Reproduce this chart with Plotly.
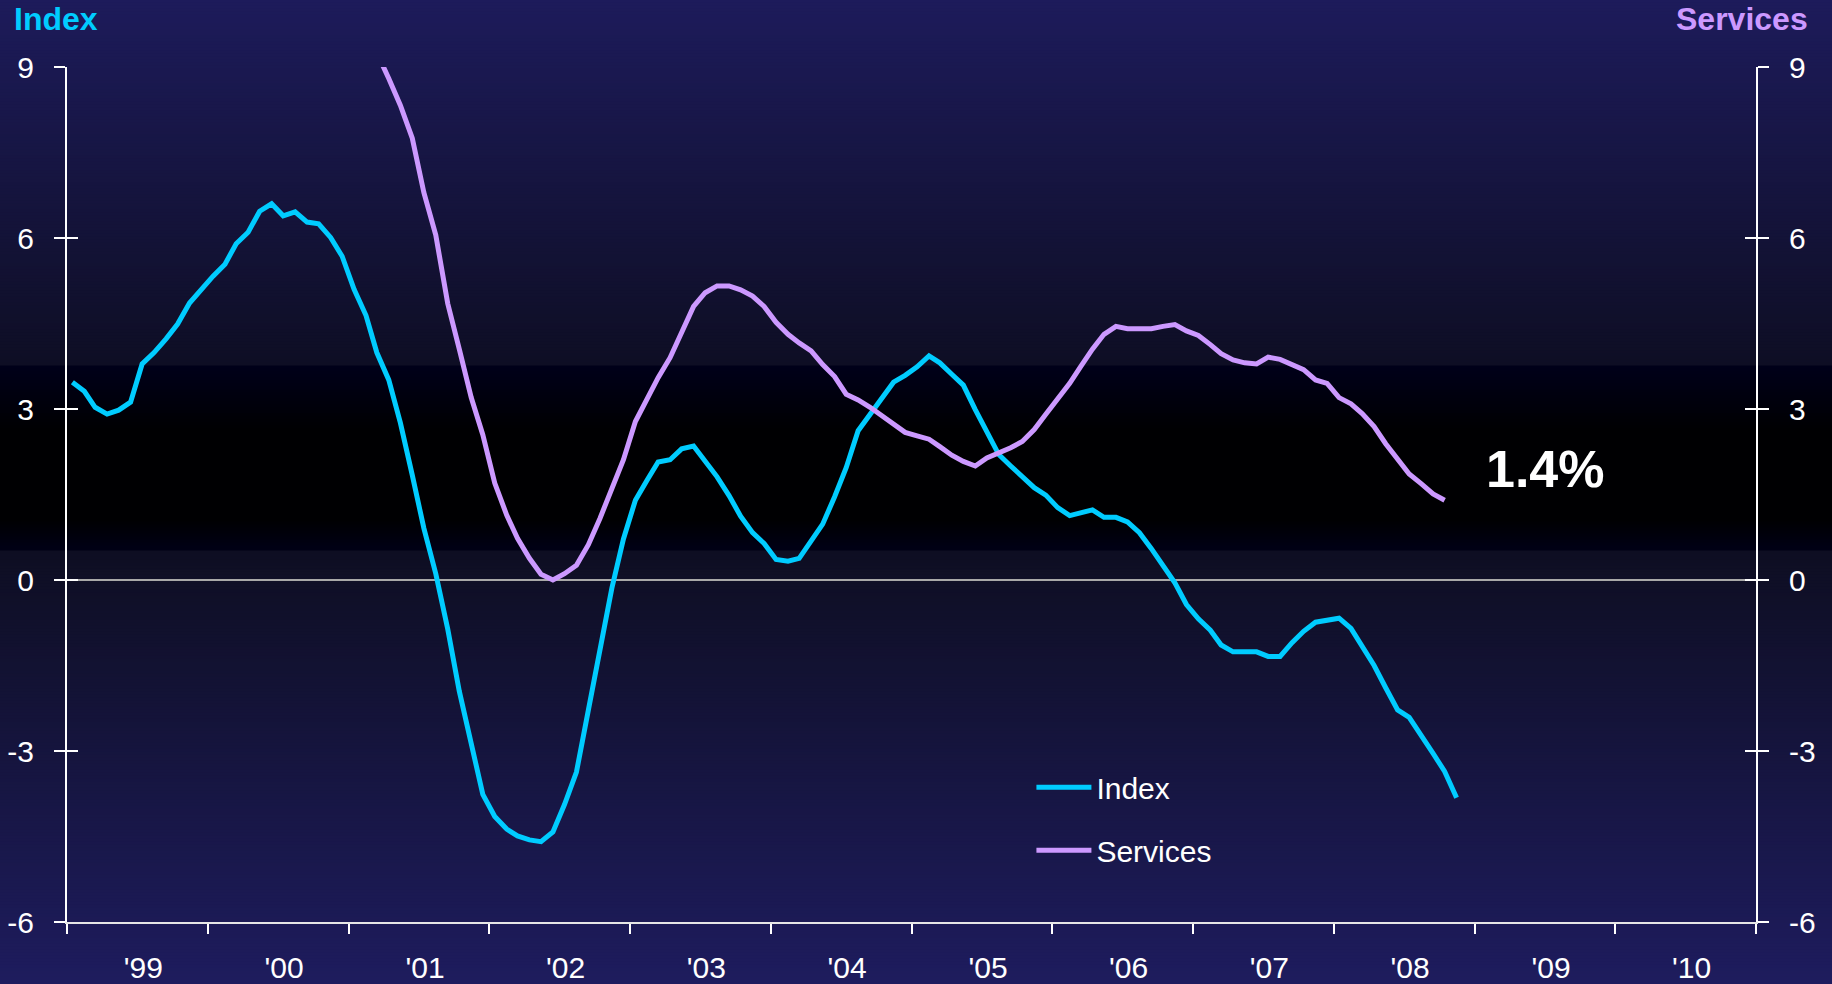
import pandas as pd
import plotly.graph_objects as go

# ---------------- data (monthly) ----------------
index_start = "1999-01-01"
index_values = [
    3.47, 3.31, 3.03, 2.91, 2.98, 3.12, 3.79, 3.99, 4.23, 4.49, 4.86, 5.10,
    5.33, 5.54, 5.90, 6.10, 6.47, 6.60, 6.39, 6.46, 6.28, 6.25, 6.01, 5.68,
    5.10, 4.64, 3.99, 3.51, 2.76, 1.84, 0.91, 0.11, -0.86, -1.95, -2.91, -3.76,
    -4.15, -4.37, -4.49, -4.56, -4.59, -4.42, -3.94, -3.37, -2.28, -1.19, -0.14, 0.72,
    1.40, 1.76, 2.07, 2.11, 2.30, 2.35, 2.09, 1.81, 1.48, 1.12, 0.83, 0.64,
    0.36, 0.33, 0.38, 0.67, 0.98, 1.46, 1.97, 2.62, 2.90, 3.17, 3.47, 3.59,
    3.74, 3.93, 3.81, 3.61, 3.42, 2.99, 2.58, 2.20, 2.00, 1.80, 1.62, 1.49,
    1.27, 1.13, 1.18, 1.23, 1.10, 1.10, 1.02, 0.83, 0.55, 0.27, -0.05, -0.43,
    -0.68, -0.88, -1.14, -1.26, -1.26, -1.26, -1.34, -1.34, -1.10, -0.90, -0.74, -0.70,
    -0.67, -0.85, -1.18, -1.50, -1.89, -2.28, -2.41, -2.71, -3.04, -3.36, -3.82,
]

services_start = "2001-02-01"
services_values = [
    9.90, 9.25, 8.80, 8.33, 7.75, 6.80, 6.05, 4.85, 4.05, 3.20, 2.55,
    1.70, 1.14, 0.73, 0.38, 0.10, 0.00, 0.11, 0.26, 0.62, 1.08, 1.62, 2.11,
    2.78, 3.19, 3.55, 3.90, 4.36, 4.80, 5.04, 5.16, 5.16, 5.09, 4.98, 4.80,
    4.52, 4.31, 4.16, 4.02, 3.78, 3.57, 3.26, 3.16, 3.03, 2.89, 2.74, 2.59,
    2.53, 2.47, 2.34, 2.19, 2.08, 2.00, 2.14, 2.22, 2.32, 2.43, 2.64, 2.91,
    3.18, 3.45, 3.74, 4.05, 4.31, 4.45, 4.41, 4.41, 4.41, 4.45, 4.48, 4.37,
    4.29, 4.13, 3.97, 3.86, 3.81, 3.79, 3.91, 3.87, 3.79, 3.69, 3.51, 3.45,
    3.20, 3.09, 2.92, 2.69, 2.39, 2.13, 1.86, 1.69, 1.51, 1.40,
]

series_names = ["Index", "Services"]
x_range = ["1999-01-01", "2011-01-01"]
y_range = [-6, 9]
y_tick_vals = [-6, -3, 0, 3, 6, 9]
y_tick_text = ["-6", "-3", "0", "3", "6", "9"]

# ---------------- styles ----------------
CYAN = "#00CCFF"
PURPLE = "#CC99FF"
FONT = "Liberation Sans, Arial, sans-serif"
W, H = 1832, 984
ML, MR, MT, MB = 67, 76, 67, 62

index_x = pd.date_range(index_start, periods=len(index_values), freq="MS") + pd.Timedelta(days=14)
services_x = pd.date_range(services_start, periods=len(services_values), freq="MS") + pd.Timedelta(days=14)

fig = go.Figure()
fig.add_trace(go.Scatter(x=index_x, y=index_values, name=series_names[0], mode="lines",
                         line=dict(color=CYAN, width=5), yaxis="y", legendgroup="a"))
fig.add_trace(go.Scatter(x=services_x, y=services_values, name=series_names[1], mode="lines",
                         line=dict(color=PURPLE, width=5), yaxis="y2", legendgroup="b"))
# empty helper traces so the inner-tick axes are drawn
fig.add_trace(go.Scatter(x=[], y=[], yaxis="y3", showlegend=False, hoverinfo="skip"))
fig.add_trace(go.Scatter(x=[], y=[], yaxis="y4", showlegend=False, hoverinfo="skip"))

# ---------------- background gradient (paper strips) ----------------
stops = [(0, (29, 27, 91)), (366, (14, 14, 36)), (366.01, (0, 0, 26)), (430, (0, 0, 2)),
         (520, (0, 0, 2)), (551, (0, 0, 22)), (551.01, (14, 14, 34)), (984, (30, 28, 94))]

def color_at(yy):
    for (a, ca), (b, cb) in zip(stops[:-1], stops[1:]):
        if a <= yy <= b:
            t = 0 if b == a else (yy - a) / (b - a)
            c = [round(ca[k] + (cb[k] - ca[k]) * t) for k in range(3)]
            return "rgb(%d,%d,%d)" % tuple(c)
    return "rgb(%d,%d,%d)" % stops[-1][1]

ph = H - MT - MB
pw = W - ML - MR
shapes = []
edges = list(range(0, 367, 3)) + [366, 551] + list(range(366, 552, 3)) + list(range(551, H + 1, 3)) + [H]
edges = sorted(set(edges))
for a, b in zip(edges[:-1], edges[1:]):
    mid = (a + b) / 2
    shapes.append(dict(type="rect", xref="paper", yref="paper", layer="below",
                       x0=-ML / pw - 0.01, x1=1 + MR / pw + 0.01,
                       y0=(H - MB - b - 0.5) / ph, y1=(H - MB - a + 0.5) / ph,
                       fillcolor=color_at(mid), line=dict(width=0)))

tickfont = dict(family=FONT, size=30, color="white")
yax_common = dict(range=y_range, tickmode="array", tickvals=y_tick_vals, ticktext=y_tick_text,
                  showgrid=False, tickfont=tickfont,
                  tickcolor="white", tickwidth=2, ticklen=11, fixedrange=True)

fig.update_layout(
    width=W, height=H,
    margin=dict(l=ML, r=MR, t=MT, b=MB, autoexpand=False),
    paper_bgcolor="#141438", plot_bgcolor="rgba(0,0,0,0)",
    shapes=shapes,
    showlegend=True,
    legend=dict(x=0.571, y=0.188, xanchor="left", yanchor="top",
                font=dict(family=FONT, size=30, color="white"),
                bgcolor="rgba(0,0,0,0)", tracegroupgap=21, itemwidth=55),
    xaxis=dict(type="date", range=x_range, dtick="M12", tick0="1999-01-01",
               tickformat="'%y", ticklabelmode="period", ticks="outside",
               ticklen=10, tickwidth=2, tickcolor="white", showline=True,
               linecolor="#e6e6e6", linewidth=2, showgrid=False, zeroline=False,
               tickfont=tickfont, ticklabelstandoff=8, ticklabelshift=6,
               fixedrange=True),
    yaxis=dict(**yax_common, side="left", ticks="outside", showline=True,
               linecolor="white", linewidth=2, zeroline=True,
               zerolinecolor="#a8a8a8", zerolinewidth=1.5, ticklabelstandoff=14),
    yaxis2=dict(**yax_common, side="right", overlaying="y", ticks="outside",
                showline=True, linecolor="white", linewidth=2, zeroline=False,
                ticklabelstandoff=14),
    yaxis3=dict(**yax_common, side="left", overlaying="y", ticks="inside",
                showticklabels=False, showline=False, zeroline=False),
    yaxis4=dict(**yax_common, side="right", overlaying="y", ticks="inside",
                showticklabels=False, showline=False, zeroline=False),
    annotations=[
        dict(text="<b>%s</b>" % series_names[0], xref="paper", yref="paper",
             x=(12 - ML) / pw, y=1 + (MT - 19) / ph, xanchor="left", yanchor="middle",
             showarrow=False, font=dict(family=FONT, size=32, color=CYAN)),
        dict(text="<b>%s</b>" % series_names[1], xref="paper", yref="paper",
             x=(1810 - ML) / pw, y=1 + (MT - 19) / ph, xanchor="right", yanchor="middle",
             showarrow=False, font=dict(family=FONT, size=32, color=PURPLE)),
        dict(text="<b>%.1f%%</b>" % services_values[-1], xref="x", yref="y",
             x="2009-07-04", y=1.95, xanchor="center", yanchor="middle",
             showarrow=False, font=dict(family=FONT, size=52, color="white")),
    ],
)

fig.write_html(
    "out.html",
    config={"displayModeBar": False},
    post_script="document.body.style.margin='0';document.body.style.overflow='hidden';",
)
